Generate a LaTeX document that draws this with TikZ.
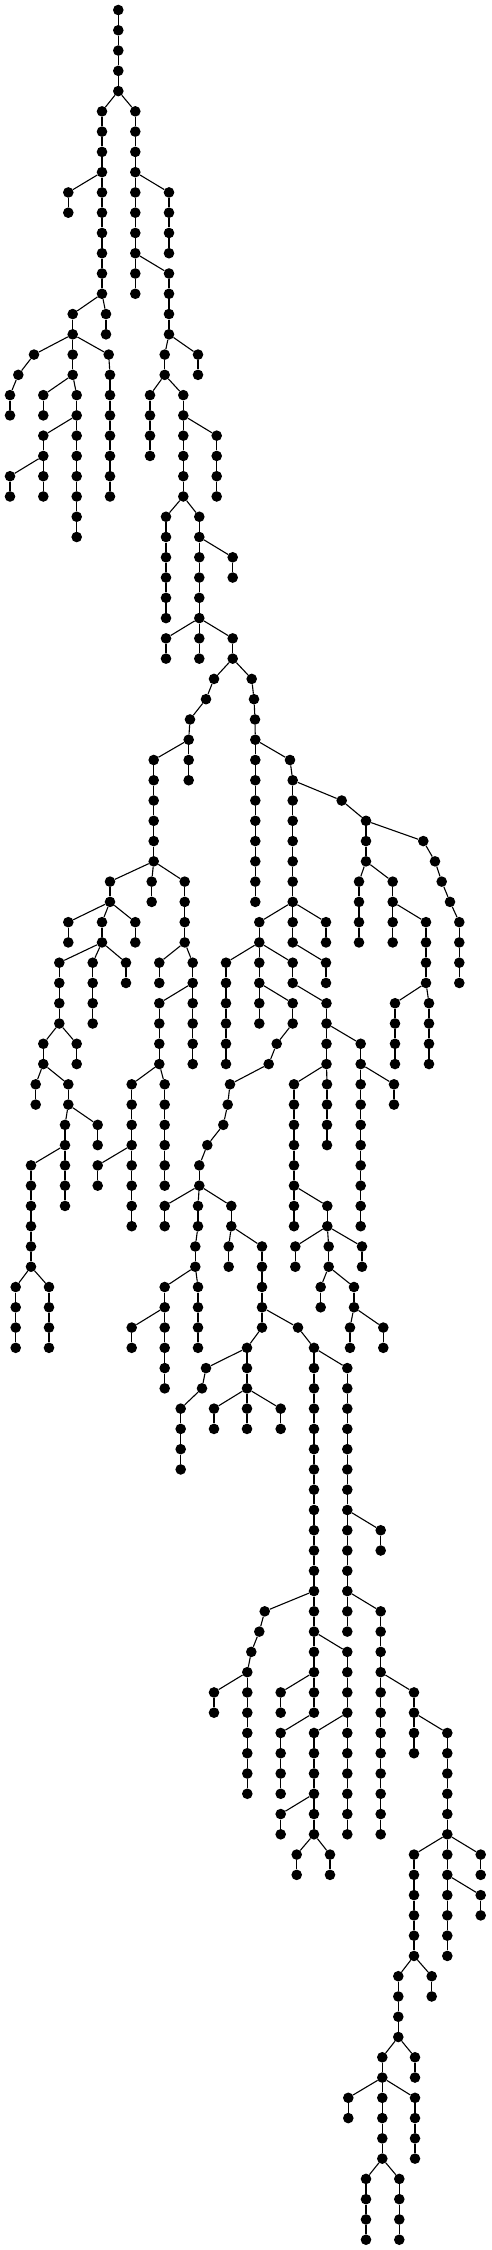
\documentclass[tikz,border=0pt]{standalone}
\pgfdeclarelayer{bg}
\pgfsetlayers{bg,main}
\tikzset{dot/.style={circle,fill=black,draw=none,inner sep=0pt,minimum size=10.6pt},
  edge/.style={draw=black,line width=1.1pt}}
\newcommand\br[5]{%
  \foreach \r in {#4,...,#5}{\node[dot] (#1-\r) at (#3,\r) {};}%
  \begin{pgfonlayer}{bg}%
  \draw[edge] (#2) -- (#1-#4);%
  \foreach \r in {#4,...,#5}{\ifnum\r>#4 \pgfmathtruncatemacro\prv{\r-1}\draw[edge] (#1-\prv) -- (#1-\r);\fi}%
  \end{pgfonlayer}}
\newcommand\nd[4]{\node[dot] (#1) at (#3,#4) {};%
  \begin{pgfonlayer}{bg}\draw[edge] (#2) -- (#1);\end{pgfonlayer}}
\begin{document}
\begin{tikzpicture}
\path[use as bounding box] (0pt,0pt) rectangle (491pt,-2250pt);
\begin{scope}[x=1pt,y=-20.27pt,yshift=-10pt]
\node[dot] (A-0) at (118.3,0) {};
\br{A}{A-0}{118.3}{1}{4}
\br{B}{A-4}{102}{5}{14}
\br{C}{B-8}{68.3}{9}{10}
\br{D}{B-14}{106}{15}{16}
\br{E}{B-14}{72.7}{15}{18}
\nd{F1}{E-16}{34}{17}
\nd{F2}{F1}{18.3}{18}
\br{F}{F2}{10}{19}{20}
\nd{G1}{E-16}{108.7}{17}
\br{G}{G1}{110}{18}{24}
\br{H}{E-18}{43.3}{19}{20}
\br{I}{E-18}{76.7}{19}{26}
\br{J}{I-20}{43.3}{21}{24}
\br{K}{J-22}{10}{23}{24}
\br{L}{A-4}{135.3}{5}{14}
\br{M}{L-8}{169}{9}{12}
\br{N}{L-12}{169}{13}{16}
\br{O}{N-16}{164.7}{17}{18}
\br{P}{N-16}{198}{17}{18}
\br{Q}{O-18}{150}{19}{22}
\br{S}{O-18}{183.3}{19}{24}
\br{T}{S-20}{216.7}{21}{24}
\br{U}{S-24}{166}{25}{30}
\br{V}{S-24}{199.3}{25}{32}
\br{W}{V-26}{232.7}{27}{28}
\br{X}{V-30}{166}{31}{32}
\br{Y}{V-30}{232.7}{31}{32}
\nd{z33}{Y-32}{214}{33}
\nd{z34}{z33}{206}{34}
\nd{z35}{z34}{190}{35}
\br{Za}{z35}{188.7}{36}{38}
\br{Zb}{Za-36}{153.7}{37}{42}
\br{Zc}{Zb-42}{110}{43}{44}
\br{Zd}{Zb-42}{151.7}{43}{44}
\br{Ze}{Zb-42}{184.7}{43}{46}
\br{Zf}{Zc-44}{68.3}{45}{46}
\br{Zg}{Zc-44}{102}{45}{46}
\br{Zh}{Zc-44}{135.3}{45}{46}
\br{Zi}{Zg-46}{59.3}{47}{50}
\br{Zj}{Zg-46}{92.7}{47}{50}
\br{Zk}{Zg-46}{126}{47}{48}
\br{Zl}{Zi-50}{43.3}{51}{52}
\br{Zm}{Zi-50}{76.7}{51}{52}
\br{Zn}{Zl-52}{35.7}{53}{54}
\br{Zo}{Zl-52}{68.3}{53}{54}
\br{Zp}{Zo-54}{65}{55}{59}
\br{Zq}{Zo-54}{97.7}{55}{56}
\br{Zr}{Zp-56}{31}{57}{62}
\br{Zs}{Zr-62}{15.7}{63}{66}
\br{Zt}{Zr-62}{49}{63}{66}
\br{Ya}{Ze-46}{159.3}{47}{48}
\br{Yb}{Ze-46}{192.7}{47}{52}
\br{Yc}{Yb-48}{159.3}{49}{52}
\br{Yd}{Yc-52}{131.7}{53}{60}
\br{Ye}{Yc-52}{164.7}{53}{58}
\br{Yf}{Yd-56}{97.7}{57}{58}
\nd{y33}{Y-32}{251.7}{33}
\nd{y34}{y33}{254}{34}
\nd{y35}{y34}{255}{35}
\br{Xa}{y35}{255.3}{36}{44}
\nd{Xb}{Xa-36}{290}{37}
\br{Xc}{Xb}{292.7}{38}{46}
\br{Xd}{Xc-44}{259.3}{45}{50}
\br{Xe}{Xc-44}{326}{45}{46}
\br{Xf}{Xd-46}{226}{47}{52}
\br{Xg}{Xd-46}{292.7}{47}{48}
\br{Xgg}{Xc-46}{326}{47}{48}
\br{Xh}{Xg-48}{326.5}{49}{52}
\br{Xi}{Xh-52}{327}{53}{56}
\br{Xj}{Xh-52}{294}{53}{60}
\br{Xk}{Xh-50}{360.7}{51}{60}
\br{Xm}{Xk-52}{394}{53}{54}
\br{Xn}{Xj-58}{327.3}{59}{60}
\br{Xo}{Xn-60}{295.3}{61}{62}
\br{Xp}{Xn-60}{328.7}{61}{62}
\br{Xq}{Xn-60}{362}{61}{62}
\br{Xr}{Xp-62}{320.7}{63}{64}
\br{Xs}{Xp-62}{354}{63}{64}
\br{Xt}{Xs-64}{350}{65}{66}
\br{Xu}{Xs-64}{383.3}{65}{66}
\br{Wa}{Xd-48}{292.7}{49}{50}
\nd{w51}{Wa-50}{276.7}{51}
\nd{w52}{w51}{268.7}{52}
\nd{w53}{w52}{230}{53}
\nd{w54}{w53}{227.7}{54}
\nd{w55}{w54}{223.3}{55}
\nd{w56}{w55}{207.3}{56}
\br{Va}{w56}{199.3}{57}{58}
\br{Vb}{Va-58}{164.7}{59}{60}
\br{Vc}{Va-58}{198}{59}{60}
\br{Vd}{Vc-60}{195.3}{61}{62}
\br{Ve}{Vd-62}{164.7}{63}{64}
\br{Vf}{Vd-62}{198}{63}{66}
\br{Vg}{Va-58}{231.3}{59}{60}
\br{Vh}{Vg-60}{228.7}{61}{62}
\br{Vi}{Vg-60}{262}{61}{65}
\br{Vj}{Ve-64}{131.7}{65}{66}
\br{Vk}{Ve-64}{164.7}{65}{68}
\br{Vl}{Vi-65}{247}{66}{68}
\nd{Vm1}{Vl-66}{206}{67}
\nd{Vm2}{Vm1}{202}{68}
\br{Vm}{Vm2}{180.7}{69}{72}
\br{Vn}{Vl-68}{214}{69}{70}
\br{Vo}{Vl-68}{247}{69}{70}
\br{Vp}{Vl-68}{280.7}{69}{70}
\nd{Vq}{Vi-64}{298}{65}
\br{Ua}{Vq}{314}{66}{84}
\br{Ub}{Ua-66}{347.3}{67}{80}
\br{Uc}{Ub-74}{380.7}{75}{76}
\br{Ud}{Ub-78}{380.7}{79}{90}
\nd{Ue1}{Ua-78}{264.7}{79}
\nd{Ue2}{Ue1}{259.3}{80}
\nd{Ue3}{Ue2}{251.3}{81}
\br{Ue}{Ue3}{247.3}{82}{88}
\br{Uf}{Ue-82}{214}{83}{84}
\br{Ug}{Ua-80}{347.3}{81}{90}
\br{Uh}{Ua-82}{280.7}{83}{84}
\br{Ui}{Ua-84}{280.7}{85}{88}
\br{Uj}{Ug-84}{314}{85}{90}
\br{Uk}{Uj-88}{280.7}{89}{90}
\br{Ul}{Uj-90}{296.7}{91}{92}
\br{Um}{Uj-90}{330}{91}{92}
\br{Un}{Ud-82}{414}{83}{86}
\br{Uo}{Un-84}{447.3}{85}{96}
\br{Up}{Uo-90}{414}{91}{96}
\br{Uq}{Uo-90}{480.7}{91}{92}
\br{Ur}{Uo-92}{480.7}{93}{94}
\br{Us}{Up-96}{398.3}{97}{100}
\br{Ut}{Up-96}{431.7}{97}{98}
\br{Uu}{Us-100}{382.3}{101}{106}
\br{Uv}{Us-100}{415}{101}{102}
\br{Uw}{Uu-102}{348.3}{103}{104}
\br{Ux}{Uu-102}{415}{103}{106}
\br{Uy}{Uu-106}{366}{107}{110}
\br{Uz}{Uu-106}{399.3}{107}{110}
\nd{Ta}{Xc-38}{341.7}{39}
\br{Tb}{Ta}{366}{40}{42}
\br{Tc}{Tb-42}{359}{43}{46}
\br{Td}{Tb-42}{392.7}{43}{46}
\br{Te}{Td-44}{426}{45}{48}
\br{Tf}{Te-48}{395}{49}{52}
\br{Tg}{Te-48}{429}{49}{52}
\nd{Th1}{Tb-40}{423.3}{41}
\nd{Th2}{Th1}{435}{42}
\nd{Th3}{Th2}{441.7}{43}
\nd{Th4}{Th3}{450}{44}
\br{Th}{Th4}{459.3}{45}{48}
\end{scope}
\end{tikzpicture}
\end{document}
